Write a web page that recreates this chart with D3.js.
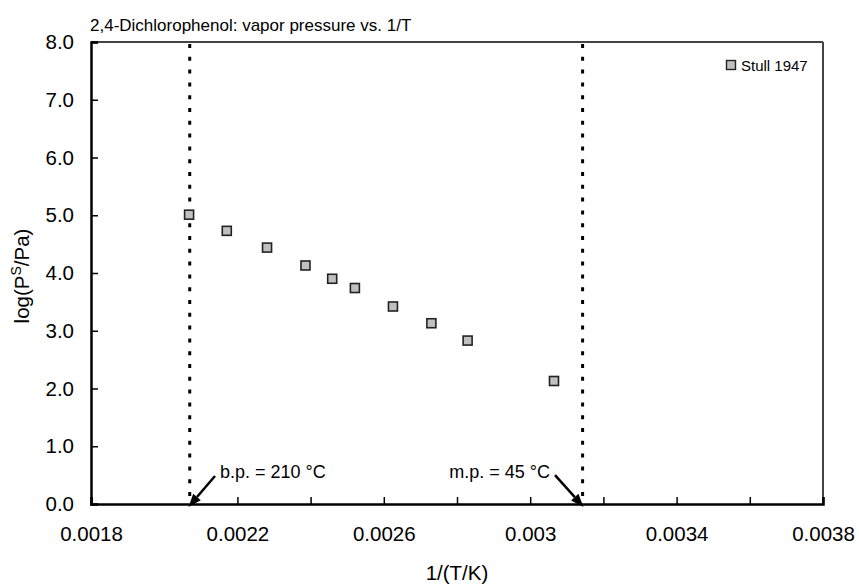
<!DOCTYPE html>
<html>
<head>
<meta charset="utf-8">
<script src="https://cdn.jsdelivr.net/npm/d3@7"></script>
<style>
  html, body { margin: 0; padding: 0; background: #fff; }
  svg { display: block; font-family: "Liberation Sans", Arial, sans-serif; }
</style>
</head>
<body>
<div id="chart"></div>
<script>
// ── Data ─────────────────────────────────────────────────────────
const invT = [0.002068, 0.002171, 0.002281, 0.002386, 0.002459, 0.002521, 0.002625, 0.00273, 0.002829, 0.003065];
const logP = [5.01, 4.73, 4.44, 4.13, 3.90, 3.74, 3.42, 3.13, 2.83, 2.13];
const seriesName = 'Stull 1947';

const xTicks = [0.0018, 0.0022, 0.0026, 0.003, 0.0034, 0.0038];
const xTickLabels = ['0.0018', '0.0022', '0.0026', '0.003', '0.0034', '0.0038'];
const xMinorTicks = [0.002, 0.0024, 0.0028, 0.0032, 0.0036];
const yTicks = [0, 1, 2, 3, 4, 5, 6, 7, 8];

// boiling / melting points as 1/T
const markLines = [1 / 483.15, 1 / 318.15];
const markLabels = ['b.p. = 210 °C', 'm.p. = 45 °C'];

// ── Layout ───────────────────────────────────────────────────────
const W = 859, H = 584;
const margin = { top: 42, right: 36, bottom: 80, left: 91 };
const iw = W - margin.left - margin.right;
const ih = H - margin.top - margin.bottom;

const svg = d3.select('#chart').append('svg')
  .attr('width', W)
  .attr('height', H);

const g = svg.append('g')
  .attr('transform', `translate(${margin.left},${margin.top})`);

const x = d3.scaleLinear().domain([0.0018, 0.0038]).range([0, iw]);
const y = d3.scaleLinear().domain([0, 8]).range([ih, 0]);

// frame: top/right grey, left/bottom black
g.append('line').attr('x1', 0).attr('x2', iw).attr('y1', 0).attr('y2', 0)
  .attr('stroke', '#444').attr('stroke-width', 2);
g.append('line').attr('x1', iw).attr('x2', iw).attr('y1', 0).attr('y2', ih)
  .attr('stroke', '#444').attr('stroke-width', 2);

// dotted reference lines
g.selectAll('.mark-line')
  .data(markLines)
  .enter()
  .append('line')
  .attr('class', 'mark-line')
  .attr('x1', d => x(d)).attr('x2', d => x(d))
  .attr('y1', 2).attr('y2', ih)
  .attr('stroke', '#000')
  .attr('stroke-width', 3)
  .attr('stroke-dasharray', '4,8.8');

// X axis (ticks inward)
const xAxis = g.append('g')
  .attr('transform', `translate(0,${ih})`)
  .call(d3.axisBottom(x).tickValues(xTicks).tickSize(-7).tickPadding(22)
    .tickFormat((d, i) => xTickLabels[i]));
xAxis.append('g')
  .call(d3.axisBottom(x).tickValues(xMinorTicks).tickSize(-7).tickFormat(''))
  .select('.domain').remove();

// Y axis (ticks inward)
const yAxis = g.append('g')
  .call(d3.axisLeft(y).tickValues(yTicks).tickSize(-7).tickPadding(17)
    .tickFormat(d3.format('.1f')));

[xAxis, yAxis].forEach(ax => {
  ax.selectAll('text')
    .attr('fill', '#000')
    .attr('font-size', '20.5px')
    .attr('font-family', '"Liberation Sans", Arial, sans-serif');
  ax.selectAll('.tick line').attr('stroke', '#000').attr('stroke-width', 1.5);
  ax.select('.domain').attr('stroke', '#000').attr('stroke-width', 2.5);
});
yAxis.selectAll('.tick:first-child line').remove();
xAxis.selectAll('.tick:first-child line').remove();

// data markers
g.selectAll('.pt')
  .data(invT.map((v, i) => ({ x: v, y: logP[i] })))
  .enter()
  .append('rect')
  .attr('class', 'pt')
  .attr('x', d => x(d.x) - 4.5)
  .attr('y', d => y(d.y) - 4.5)
  .attr('width', 9)
  .attr('height', 9)
  .attr('fill', '#c0c0c0')
  .attr('stroke', '#222')
  .attr('stroke-width', 1.6);

// ── Annotations ──────────────────────────────────────────────────
// arrow start / tip in data units
const arrowStart = [[0.0021388, 0.485], [0.0030678, 0.50]];
const arrowEnd = [[0.0020665, -0.05], [0.0031455, -0.05]];
const labelPos = [[0.0021525, 0.45, 'start'], [0.003054, 0.45, 'end']];

arrowStart.forEach((s, i) => {
  const x1 = x(s[0]), y1 = y(s[1]);
  const x2 = x(arrowEnd[i][0]), y2 = y(arrowEnd[i][1]);
  const ang = Math.atan2(y2 - y1, x2 - x1);
  const hl = 13, hw = 5;
  const bx = x2 - hl * Math.cos(ang), by = y2 - hl * Math.sin(ang);
  g.append('line')
    .attr('x1', x1).attr('y1', y1)
    .attr('x2', bx).attr('y2', by)
    .attr('stroke', '#000')
    .attr('stroke-width', 2.5);
  g.append('path')
    .attr('d', `M${x2},${y2}L${bx + hw * Math.sin(ang)},${by - hw * Math.cos(ang)}` +
      `L${bx - hw * Math.sin(ang)},${by + hw * Math.cos(ang)}Z`)
    .attr('fill', '#000');
  g.append('text')
    .attr('x', x(labelPos[i][0]))
    .attr('y', y(labelPos[i][1]))
    .attr('text-anchor', labelPos[i][2])
    .attr('font-size', '18px')
    .attr('fill', '#000')
    .text(markLabels[i]);
});

// legend
const legend = svg.append('g').attr('transform', 'translate(731,65)');
legend.append('rect')
  .attr('x', -4.5).attr('y', -4.5).attr('width', 9).attr('height', 9)
  .attr('fill', '#c0c0c0').attr('stroke', '#222').attr('stroke-width', 1.4);
legend.append('text')
  .attr('x', 10).attr('y', 5.5)
  .attr('font-size', '15px')
  .attr('fill', '#000')
  .text(seriesName);

// title
svg.append('text')
  .attr('x', 90).attr('y', 31)
  .attr('font-size', '17px')
  .attr('fill', '#000')
  .text('2,4-Dichlorophenol: vapor pressure vs. 1/T');

// axis titles
svg.append('text')
  .attr('x', margin.left + iw / 2)
  .attr('y', 580)
  .attr('text-anchor', 'middle')
  .attr('font-size', '20.5px')
  .attr('fill', '#000')
  .text('1/(T/K)');

const yt = svg.append('text')
  .attr('transform', `translate(29,${margin.top + ih / 2 + 3}) rotate(-90)`)
  .attr('text-anchor', 'middle')
  .attr('font-size', '20.5px')
  .attr('fill', '#000');
yt.append('tspan').text('log(P');
yt.append('tspan').attr('font-size', '14px').attr('dy', -8).text('S');
yt.append('tspan').attr('dy', 8).text('/Pa)');
</script>
</body>
</html>
